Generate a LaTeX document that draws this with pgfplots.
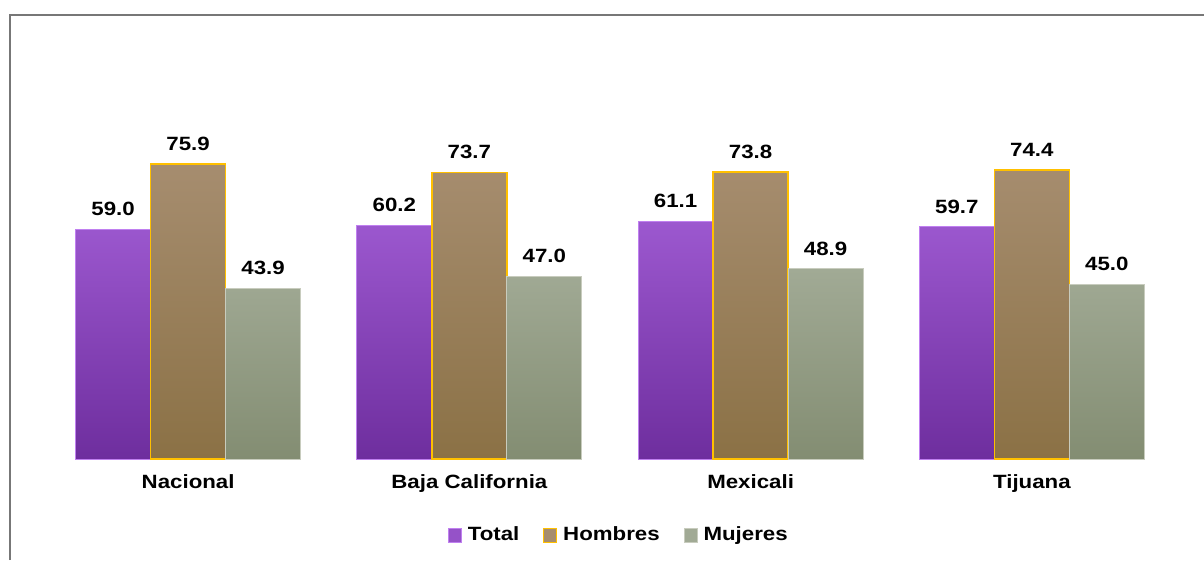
\documentclass[border=0pt]{standalone}
\usepackage{fontspec}
\setmainfont{Liberation Sans}[FakeStretch=1.16]
\usepackage{pgfplots}
\pgfplotsset{compat=1.18}
\definecolor{totT}{HTML}{9C58CF}
\definecolor{totM}{HTML}{9552C8}
\definecolor{totB}{HTML}{6E2E9E}
\definecolor{totE}{HTML}{C080F0}
\definecolor{homT}{HTML}{A68D6F}
\definecolor{homB}{HTML}{8B7145}
\definecolor{homE}{HTML}{FFC000}
\definecolor{mujT}{HTML}{A1AA95}
\definecolor{mujB}{HTML}{838D72}
\definecolor{mujE}{HTML}{C8CCBE}
\definecolor{frame}{HTML}{777777}
\newcommand{\lbl}{\fontsize{19.2}{23}\selectfont\bfseries}
\begin{document}
\begin{tikzpicture}
\useasboundingbox (0,0) rectangle (1204pt,560pt);
\draw[frame, line width=2pt] (10pt,0pt) -- (10pt,545pt) -- (1204pt,545pt);
\begin{axis}[
  at={(47.5pt,101pt)}, anchor=south west,
  scale only axis, width=1125pt, height=388.7pt,
  xmin=-0.5, xmax=3.5, ymin=0, ymax=100,
  ybar=0pt, bar width=75pt,
  xtick={0,1,2,3},
  xticklabels={Nacional,Baja California,Mexicali,Tijuana},
  ytick=\empty,
  axis line style={draw=none},
  major tick length=0pt,
  /pgf/number format/assume math mode=true,
  xticklabel style={font=\lbl, anchor=base, inner sep=0pt, yshift=-29pt},
  nodes near coords={\pgfmathprintnumber[fixed,fixed zerofill,precision=1,assume math mode=true]{\pgfplotspointmeta}},
  every node near coord/.append style={font=\lbl, inner sep=0pt, anchor=south, yshift=13pt, black},
  legend style={at={(0.507,-0.1955)}, anchor=center, draw=none, fill=none,
    font=\lbl, legend columns=3,
    nodes={inner sep=0pt},
    /tikz/every odd column/.append style={column sep=6pt},
    /tikz/every even column/.append style={column sep=24pt}},
]
\addplot[bar shift=-75pt, draw=totE, line width=1pt, top color=totT, middle color=totM, bottom color=totB, forget plot]
  coordinates {(0,59.0) (1,60.2) (2,61.1) (3,59.7)};
\addplot[bar shift=0pt, draw=homE, line width=1.5pt, top color=homT, bottom color=homB, forget plot]
  coordinates {(0,75.9) (1,73.7) (2,73.8) (3,74.4)};
\addplot[bar shift=75pt, draw=mujE, line width=1pt, top color=mujT, bottom color=mujB, forget plot]
  coordinates {(0,43.9) (1,47.0) (2,48.9) (3,45.0)};
\addlegendimage{legend image code/.code={\draw[draw=totE, fill=totM, line width=0.8pt] (0pt,-8pt) rectangle (13pt,6pt);}}
\addlegendimage{legend image code/.code={\draw[draw=homE, fill=homT, line width=0.8pt] (0pt,-8pt) rectangle (13pt,6pt);}}
\addlegendimage{legend image code/.code={\draw[draw=mujE, fill=mujT, line width=0.8pt] (0pt,-8pt) rectangle (13pt,6pt);}}
\legend{Total,Hombres,Mujeres}
\end{axis}
\end{tikzpicture}
\end{document}
